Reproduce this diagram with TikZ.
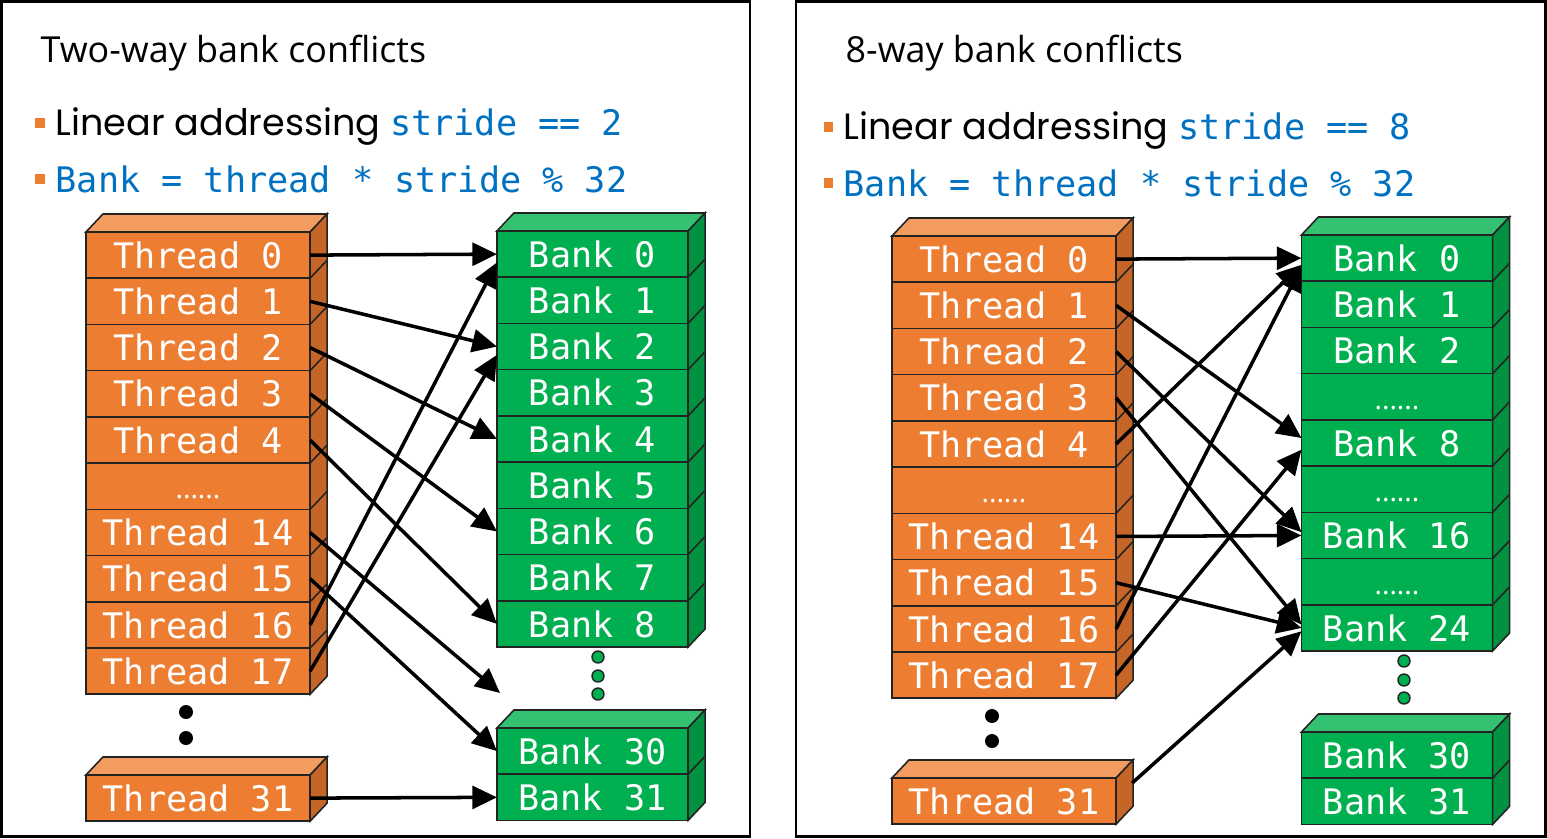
\documentclass[tikz,border=0pt]{standalone}
\usepackage{fontspec}
\setmainfont{Open Sans}
\setmonofont{DejaVu Sans Mono}
\newfontfamily\roundfont{Poppins}
\usepackage{tikz}
\usetikzlibrary{arrows.meta, positioning, calc}
\definecolor{myorange}{RGB}{237,125,49}
\definecolor{toporange}{RGB}{242,156,96}
\definecolor{sideorange}{RGB}{197,101,40}
\definecolor{mygreen}{RGB}{0,176,80}
\definecolor{topgreen}{RGB}{52,194,114}
\definecolor{sidegreen}{RGB}{0,146,64}
\definecolor{myblue}{RGB}{0,112,192}
\definecolor{mydark}{RGB}{35,35,35}
\tikzset{
  thread/.style={rectangle, draw=mydark, fill=myorange, text=white,
    minimum width=2.24cm, minimum height=0.462cm, inner sep=0pt, outer sep=0pt,
    font=\ttfamily\fontsize{10}{10}\selectfont, line width=0.45pt},
  bank/.style={thread, fill=mygreen, minimum width=1.91cm},
  facet/.style={draw=mydark, line width=0.45pt},
  sqbullet/.style={rectangle, fill=myorange, minimum width=0.09cm,
    minimum height=0.1cm, inner sep=0pt},
  heading/.style={font=\fontsize{10.2}{12}\selectfont, inner sep=0pt, anchor=base west},
  point/.style={font=\roundfont\fontsize{10.4}{12}\selectfont, inner sep=0pt, anchor=base west},
  arrow/.style={-{Triangle[length=7pt, width=6.5pt]}, line width=1pt, color=black},
  panel/.style={draw=black, line width=0.7pt}
}
\newcommand{\codetext}[1]{{\color{myblue}\ttfamily\fontsize{10}{12}\selectfont #1}}
\newcommand{\rowdots}{\vphantom{T}{\rmfamily\fontsize{8}{8}\selectfont ......}}
\newcommand{\stackfaces}[4]{%
  \filldraw[facet, fill=#3] (#1.north west) -- ++(17,-18) -- ($(#1.north east)+(17,-18)$) -- (#1.north east) -- cycle;
  \filldraw[facet, fill=#4] (#1.north east) -- ++(17,-18) -- ($(#2.south east)+(17,-18)$) -- (#2.south east) -- cycle;}

\begin{document}
\begin{tikzpicture}[x=0.01cm, y=-0.01cm,
  blackdot/.style={circle, fill=black, minimum size=0.14cm, inner sep=0pt},
  greendot/.style={circle, draw=mydark, fill=mygreen, minimum size=0.12cm, inner sep=0pt, line width=0.4pt}]
  \useasboundingbox (0,0) rectangle (1547,838);

  % Panels
  \draw[panel] (1.5,1.5) rectangle (750,836.5);
  \draw[panel] (796,1.5) rectangle (1545.5,836.5);

  % Left panel text
  \node[heading] (ttl1) at (40,62) {Two-way bank conflicts};
  \node[sqbullet] (sq1) at (40,123) {};
  \node[sqbullet] (sq2) at (40,179) {};
  \node[point] (line1) at (55,135) {Linear addressing \codetext{stride == 2}};
  \node[point] (line2) at (55,192) {\codetext{Bank = thread * stride \% 32}};

  % Left threads
  \node[thread] (t0) at (198,255.1) {Thread 0};
  \node[thread, below=0pt of t0] (t1) {Thread 1};
  \node[thread, below=0pt of t1] (t2) {Thread 2};
  \node[thread, below=0pt of t2] (t3) {Thread 3};
  \node[thread, below=0pt of t3] (t4) {Thread 4};
  \node[thread, below=0pt of t4] (tdots) {\rowdots};
  \node[thread, below=0pt of tdots] (t14) {Thread 14};
  \node[thread, below=0pt of t14] (t15) {Thread 15};
  \node[thread, below=0pt of t15] (t16) {Thread 16};
  \node[thread, below=0pt of t16] (t17) {Thread 17};
  \node[thread] (t31) at (198,798.1) {Thread 31};
  \stackfaces{t0}{t17}{toporange}{sideorange}
  \stackfaces{t31}{t31}{toporange}{sideorange}
  \foreach \n in {t0,t1,t2,t3,t4,tdots,t14,t15,t16}
    \draw[facet] (\n.south east) -- ++(17,-18);
  \node[blackdot] (td1) at (186,712) {};
  \node[blackdot] (td2) at (186,738) {};

  % Left banks
  \node[bank] (b0) at (592.5,254.1) {Bank 0};
  \node[bank, below=0pt of b0] (b1) {Bank 1};
  \node[bank, below=0pt of b1] (b2) {Bank 2};
  \node[bank, below=0pt of b2] (b3) {Bank 3};
  \node[bank, below=0pt of b3] (b4) {Bank 4};
  \node[bank, below=0pt of b4] (b5) {Bank 5};
  \node[bank, below=0pt of b5] (b6) {Bank 6};
  \node[bank, below=0pt of b6] (b7) {Bank 7};
  \node[bank, below=0pt of b7] (b8) {Bank 8};
  \node[bank] (b30) at (592.5,751.1) {Bank 30};
  \node[bank, below=0pt of b30] (b31) {Bank 31};
  \stackfaces{b0}{b8}{topgreen}{sidegreen}
  \stackfaces{b30}{b31}{topgreen}{sidegreen}
  \foreach \n in {b0,b1,b2,b3,b4,b5,b6,b7,b30}
    \draw[facet] (\n.south east) -- ++(17,-18);
  \node[greendot] (bd1) at (598,657) {};
  \node[greendot] (bd2) at (598,676) {};
  \node[greendot] (bd3) at (598,694) {};
  \coordinate (gap) at (500,693);

  % Two-way arrows
  \draw[arrow] (t0.east) -- (b0.west);
  \draw[arrow] (t1.east) -- (b2.west);
  \draw[arrow] (t2.east) -- (b4.west);
  \draw[arrow] (t3.east) -- (b6.west);
  \draw[arrow] (t4.east) -- (b8.west);
  \draw[arrow] (t14.east) -- (gap);
  \draw[arrow] (t15.east) -- (b30.west);
  \draw[arrow] (t16.east) -- (b0.185);
  \draw[arrow] (t17.east) -- (b2.185);
  \draw[arrow] (t31.east) -- (b31.west);

  % Right panel text
  \node[heading] (ttl2) at (845,62) {8-way bank conflicts};
  \node[sqbullet] (sq3) at (828,127) {};
  \node[sqbullet] (sq4) at (828,183) {};
  \node[point] (line3) at (843,139) {Linear addressing \codetext{stride == 8}};
  \node[point] (line4) at (843,196) {\codetext{Bank = thread * stride \% 32}};

  % Right threads
  \node[thread] (u0) at (1004,259.1) {Thread 0};
  \node[thread, below=0pt of u0] (u1) {Thread 1};
  \node[thread, below=0pt of u1] (u2) {Thread 2};
  \node[thread, below=0pt of u2] (u3) {Thread 3};
  \node[thread, below=0pt of u3] (u4) {Thread 4};
  \node[thread, below=0pt of u4] (udots) {\rowdots};
  \node[thread, below=0pt of udots] (u14) {Thread 14};
  \node[thread, below=0pt of u14] (u15) {Thread 15};
  \node[thread, below=0pt of u15] (u16) {Thread 16};
  \node[thread, below=0pt of u16] (u17) {Thread 17};
  \node[thread] (u31) at (1004,801.1) {Thread 31};
  \stackfaces{u0}{u17}{toporange}{sideorange}
  \stackfaces{u31}{u31}{toporange}{sideorange}
  \foreach \n in {u0,u1,u2,u3,u4,udots,u14,u15,u16}
    \draw[facet] (\n.south east) -- ++(17,-18);
  \node[blackdot] (ud1) at (992,716) {};
  \node[blackdot] (ud2) at (992,741) {};
  \coordinate (u31s) at ($(u31.east)+(16,-18)$);

  % Right banks
  \node[bank] (c0) at (1397,258.1) {Bank 0};
  \node[bank, below=0pt of c0] (c1) {Bank 1};
  \node[bank, below=0pt of c1] (c2) {Bank 2};
  \node[bank, below=0pt of c2] (cdots1) {\rowdots};
  \node[bank, below=0pt of cdots1] (c8) {Bank 8};
  \node[bank, below=0pt of c8] (cdots2) {\rowdots};
  \node[bank, below=0pt of cdots2] (c16) {Bank 16};
  \node[bank, below=0pt of c16] (cdots3) {\rowdots};
  \node[bank, below=0pt of cdots3] (c24) {Bank 24};
  \node[bank] (c30) at (1397,755.1) {Bank 30};
  \node[bank, below=0pt of c30] (c31) {Bank 31};
  \stackfaces{c0}{c24}{topgreen}{sidegreen}
  \stackfaces{c30}{c31}{topgreen}{sidegreen}
  \foreach \n in {c0,c1,c2,cdots1,c8,cdots2,c16,cdots3,c30}
    \draw[facet] (\n.south east) -- ++(17,-18);
  \node[greendot] (cd1) at (1404,661) {};
  \node[greendot] (cd2) at (1404,680) {};
  \node[greendot] (cd3) at (1404,698) {};

  % 8-way arrows
  \draw[arrow] (u0.east) -- (c0.west);
  \draw[arrow] (u1.east) -- (c8.177);
  \draw[arrow] (u2.east) -- (c16.178);
  \draw[arrow] (u3.east) -- (c24.178);
  \draw[arrow] (u4.east) -- (c0.184);
  \draw[arrow] (u14.east) -- (c16.west);
  \draw[arrow] (u15.east) -- (c24.west);
  \draw[arrow] (u16.east) -- (c0.185);
  \draw[arrow] (u17.east) -- (c8.184);
  \draw[arrow] (u31s) -- (c24.182);
\end{tikzpicture}
\end{document}
